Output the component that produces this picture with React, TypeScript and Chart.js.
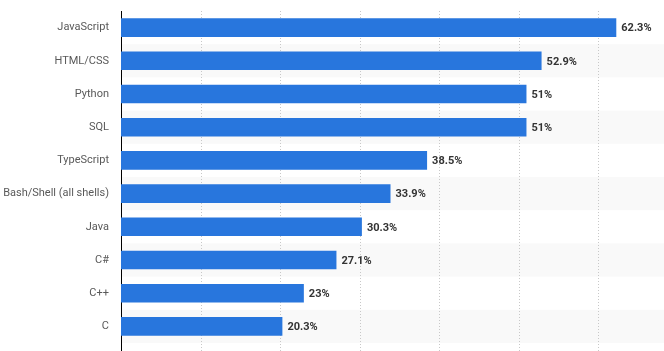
import React, { useEffect, useRef } from "react";
import { Chart, registerables } from "chart.js";

Chart.register(...registerables);

const categories = [
  "JavaScript",
  "HTML/CSS",
  "Python",
  "SQL",
  "TypeScript",
  "Bash/Shell (all shells)",
  "Java",
  "C#",
  "C++",
  "C",
];
const shares = [62.3, 52.9, 51, 51, 38.5, 33.9, 30.3, 27.1, 23, 20.3];
const gridTicks = [10, 20, 30, 40, 50, 60];

const FONT = "Roboto, 'Liberation Sans', Arial, sans-serif";

const decorPlugin = {
  id: "decor",
  beforeDatasetsDraw(chart: any) {
    const { ctx, chartArea, scales } = chart;
    const y = scales.y;
    const x = scales.x;
    const H = chart.height;
    const W = chart.width;
    ctx.save();
    const n = categories.length;
    const row = chartArea.height / n;
    ctx.fillStyle = "#f9f9f9";
    for (let i = 0; i < n; i++) {
      if (i % 2 === 1) {
        const c = y.getPixelForValue(i);
        ctx.fillRect(chartArea.left, c - row / 2, W - chartArea.left, row);
      }
    }
    ctx.strokeStyle = "#c8c8c8";
    ctx.lineWidth = 1;
    ctx.setLineDash([1, 2]);
    for (const t of gridTicks) {
      const px = Math.round(x.getPixelForValue(t)) + 0.5;
      ctx.beginPath();
      ctx.moveTo(px, chartArea.top);
      ctx.lineTo(px, H);
      ctx.stroke();
    }
    ctx.setLineDash([]);
    ctx.strokeStyle = "#000";
    const ax = Math.round(chartArea.left) + 0.5;
    ctx.beginPath();
    ctx.moveTo(ax, chartArea.top);
    ctx.lineTo(ax, H);
    ctx.stroke();
    ctx.restore();
  },
  afterDatasetsDraw(chart: any) {
    const { ctx } = chart;
    const meta = chart.getDatasetMeta(0);
    ctx.save();
    ctx.font = `bold 11px ${FONT}`;
    ctx.fillStyle = "#333333";
    ctx.textAlign = "left";
    ctx.textBaseline = "middle";
    meta.data.forEach((bar: any, i: number) => {
      ctx.fillText(`${shares[i]}%`, bar.x + 5, bar.y + 1);
    });
    ctx.restore();
  },
};

export default function App() {
  const ref = useRef<HTMLCanvasElement | null>(null);
  useEffect(() => {
    if (!ref.current) return;
    const chart = new Chart(ref.current, {
      type: "bar",
      data: {
        labels: categories,
        datasets: [
          {
            data: shares,
            backgroundColor: "#2876dd",
            borderWidth: 0,
            barPercentage: 0.56,
            categoryPercentage: 1,
          },
        ],
      },
      options: {
        indexAxis: "y",
        animation: false,
        responsive: false,
        maintainAspectRatio: false,
        devicePixelRatio: 1,
        layout: { padding: { top: 11, bottom: 8, left: 0, right: 0 } },
        plugins: {
          legend: { display: false },
          tooltip: { enabled: false },
        },
        scales: {
          x: {
            min: 0,
            max: 68.3,
            display: false,
            grid: { display: false },
          },
          y: {
            grid: { display: false, drawTicks: false },
            border: { display: false },
            ticks: {
              padding: 12,
              color: "#595959",
              font: { family: FONT, size: 11 },
            },
            afterFit(scale: any) {
              scale.width = 121;
              scale.paddingTop = 0;
              scale.paddingBottom = 0;
            },
          },
        },
      },
      plugins: [decorPlugin],
    });
    return () => chart.destroy();
  }, []);
  return (
    <div style={{ position: "fixed", left: 0, top: 0, width: 664, height: 351, background: "#fff" }}>
      <canvas ref={ref} width={664} height={351} style={{ width: 664, height: 351 }} />
    </div>
  );
}
